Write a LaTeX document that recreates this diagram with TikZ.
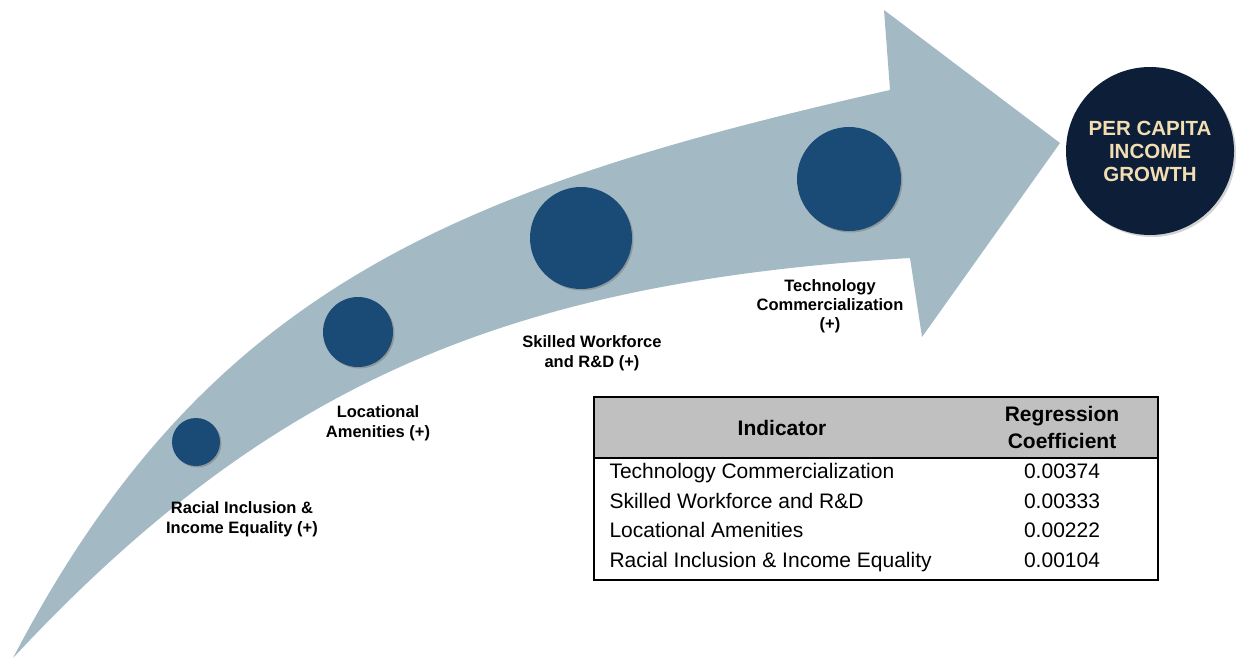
\documentclass[tikz,border=0pt]{standalone}
\usepackage{fontspec}
\setmainfont{Liberation Sans}
\usetikzlibrary{shadows}

\definecolor{arrowgray}{HTML}{A3BAC5}
\definecolor{dotblue}{HTML}{1A4A76}
\definecolor{navy}{HTML}{0D1F38}
\definecolor{sand}{HTML}{F2DEB2}
\definecolor{headgray}{HTML}{C0C0C0}

\begin{document}
\begin{tikzpicture}[x = 1pt, y = -1pt,
    dot/.style = {circle, fill = dotblue, inner sep = 0pt,
        drop shadow = {shadow xshift = 1.5pt, shadow yshift = -1.5pt, opacity = 0.6}},
    steplabel/.style = {align = center, font = \fontsize{16.5}{20.5}\selectfont\bfseries},
    headcell/.style = {align = center, font = \fontsize{21}{27}\selectfont\bfseries},
    cell/.style = {font = \fontsize{21}{24}\selectfont}]

    \useasboundingbox (0,0) rectangle (1238,658);

    % the curved arrow
    \fill[arrowgray] (13,658) .. controls (205,290) and (452,189) .. (890,90)
        -- (884,10) -- (1060,143) -- (922,337) -- (910,258)
        .. controls (511,282) and (271,381) .. (13,658) -- cycle;

    % the four drivers
    \foreach \name/\cx/\cy/\r in {racial/196/442/24, amenity/358/332/35,
                                  skilled/581/238/51, tech/849/179/52}
        \node[dot, minimum size = {2*\r pt}] (\name) at (\cx,\cy) {};

    \node[steplabel] (racialtxt)  at (242,519) {Racial Inclusion \&\\Income Equality (+)};
    \node[steplabel] (amenitytxt) at (378,423) {Locational\\Amenities (+)};
    \node[steplabel] (skilledtxt) at (592,353) {Skilled Workforce\\and R\&D (+)};
    \node[steplabel, font = \fontsize{16.5}{19}\selectfont\bfseries]
        (techtxt) at (830,306) {Technology\\Commercialization\\(+)};

    % the outcome
    \node[circle, fill = navy, minimum size = 168pt, text = sand, align = center,
          font = \fontsize{20.5}{23}\selectfont\bfseries,
          drop shadow = {shadow xshift = 2pt, shadow yshift = -2pt, opacity = 0.35}]
        (growth) at (1150,151) {PER CAPITA\\INCOME\\GROWTH};

    % the table
    \fill[white] (594,397) rectangle (1158,580);
    \fill[headgray] (594,397) rectangle (1158,458);
    \draw[line width = 1.3pt] (594,458) -- (1158,458);
    \draw[line width = 1.5pt] (594,397) rectangle (1158,580);

    \node[headcell] (hind)  at (782,428)  {Indicator};
    \node[headcell] (hcoef) at (1062,427) {Regression\\Coefficient};

    \foreach \ind/\val [count = \i] in {Technology Commercialization/0.00374,
                                        Skilled Workforce and R\&D/0.00333,
                                        Locational Amenities/0.00222,
                                        Racial Inclusion \& Income Equality/0.00104} {
        \node[cell, anchor = base west] (ind\i) at (606,{478.5 + 29.7*(\i-1)}) {\ind};
        \node[cell, anchor = base] (val\i) at (1062,{478.5 + 29.7*(\i-1)}) {\val};
    }

\end{tikzpicture}
\end{document}
